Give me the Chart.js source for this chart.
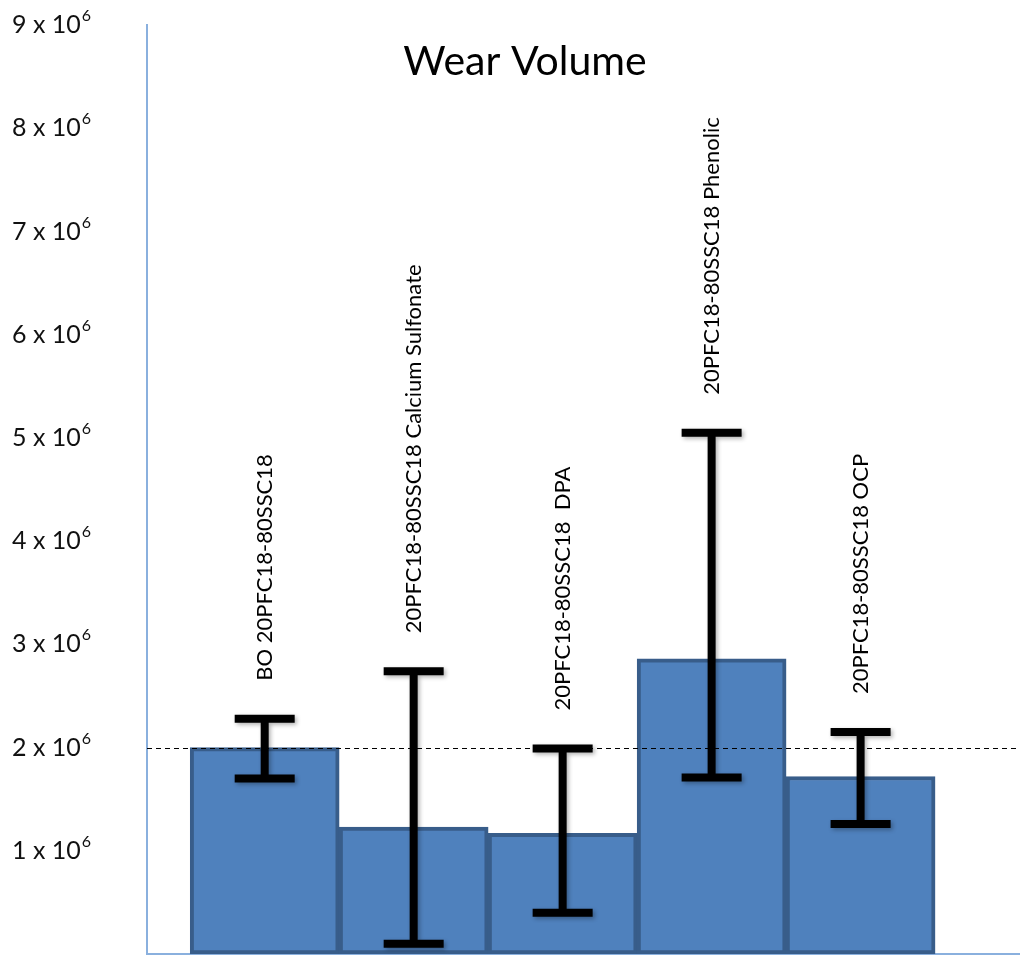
<!DOCTYPE html>
<html>
<head>
<meta charset="utf-8">
<title>Wear Volume</title>
<script src="https://cdn.jsdelivr.net/npm/chart.js@4"></script>
<style>
  html, body { margin: 0; padding: 0; background: #fff; }
  #wrap { width: 1020px; height: 958px; }
</style>
</head>
<body>
<div id="wrap"><canvas id="wear-chart" width="1020" height="958"></canvas></div>
<script>
// --- Data ---
const categories = [
    'BO 20PFC18-80SSC18',
    '20PFC18-80SSC18 Calcium Sulfonate',
    '20PFC18-80SSC18  DPA',
    '20PFC18-80SSC18 Phenolic',
    '20PFC18-80SSC18 OCP'
];
const wearVolume = [2.0e6, 1.23e6, 1.17e6, 2.86e6, 1.72e6];
const errorLow = [1.70e6, 0.10e6, 0.40e6, 1.71e6, 1.26e6];
const errorHigh = [2.28e6, 2.74e6, 1.99e6, 5.05e6, 2.15e6];
const yTickValues = [1e6, 2e6, 3e6, 4e6, 5e6, 6e6, 7e6, 8e6, 9e6];
const yTickMantissa = ['1', '2', '3', '4', '5', '6', '7', '8', '9'];
const referenceLine = 2e6;

const FONT = 'Lato, "Open Sans", sans-serif';

// --- Custom drawing: reference line, error bars, labels, ticks, title ---
const extrasPlugin = {
    id: 'extras',
    afterDatasetsDraw(chart) {
        const { ctx, chartArea, scales: { x, y } } = chart;

        // dashed line at 2 x 10^6
        const yRef = Math.round(y.getPixelForValue(referenceLine)) + 0.5;
        ctx.save();
        ctx.strokeStyle = '#000';
        ctx.lineWidth = 1;
        ctx.setLineDash([5, 4]);
        ctx.beginPath();
        ctx.moveTo(chartArea.left, yRef);
        ctx.lineTo(chartArea.right, yRef);
        ctx.stroke();
        ctx.restore();

        // error bars
        ctx.save();
        ctx.strokeStyle = '#000';
        ctx.lineWidth = 8;
        ctx.lineCap = 'butt';
        ctx.shadowColor = 'rgba(0,0,0,0.3)';
        ctx.shadowBlur = 4;
        ctx.shadowOffsetX = 2;
        ctx.shadowOffsetY = 2;
        categories.forEach((c, i) => {
            const cx = x.getPixelForValue(i);
            const yLo = y.getPixelForValue(errorLow[i]);
            const yHi = y.getPixelForValue(errorHigh[i]);
            ctx.beginPath();
            ctx.moveTo(cx, yLo);
            ctx.lineTo(cx, yHi);
            ctx.moveTo(cx - 30, yLo);
            ctx.lineTo(cx + 30, yLo);
            ctx.moveTo(cx - 30, yHi);
            ctx.lineTo(cx + 30, yHi);
            ctx.stroke();
        });
        ctx.restore();

        // rotated category labels above each error bar
        ctx.save();
        ctx.fillStyle = '#000';
        ctx.font = '22px ' + FONT;
        ctx.textAlign = 'left';
        ctx.textBaseline = 'middle';
        categories.forEach((c, i) => {
            const cx = x.getPixelForValue(i);
            const yHi = y.getPixelForValue(errorHigh[i]);
            ctx.save();
            ctx.translate(cx, yHi - 38);
            ctx.rotate(-Math.PI / 2);
            ctx.fillText(c, 0, 0);
            ctx.restore();
        });
        ctx.restore();
    },
    afterDraw(chart) {
        const { ctx, scales: { y } } = chart;

        // y tick labels "n x 10^6"
        ctx.save();
        ctx.fillStyle = '#111';
        ctx.textBaseline = 'middle';
        ctx.textAlign = 'left';
        yTickValues.forEach((v, i) => {
            const py = y.getPixelForValue(v);
            ctx.font = '25px ' + FONT;
            const base = yTickMantissa[i] + ' x 10';
            ctx.fillText(base, 12, py);
            const w = ctx.measureText(base).width;
            ctx.font = '16px ' + FONT;
            ctx.fillText('6', 12 + w + 1, py - 9);
        });
        ctx.restore();

        // title
        ctx.save();
        ctx.fillStyle = '#000';
        ctx.font = '41px ' + FONT;
        ctx.textAlign = 'center';
        ctx.textBaseline = 'middle';
        ctx.fillText('Wear Volume', 525, 62);
        ctx.restore();
    }
};

const ctx = document.getElementById('wear-chart').getContext('2d');
new Chart(ctx, {
    type: 'bar',
    data: {
        datasets: [{
            label: 'Wear Volume',
            data: wearVolume.map((v, i) => ({ x: i, y: v })),
            backgroundColor: '#4F81BD',
            borderColor: '#385D8A',
            borderWidth: 4,
            borderSkipped: false,
            barPercentage: 1,
            categoryPercentage: 1
        }]
    },
    options: {
        responsive: false,
        animation: false,
        layout: { padding: { top: 25, right: 0, left: 0, bottom: 0 } },
        plugins: {
            legend: { display: false },
            tooltip: { enabled: false },
            title: { display: false }
        },
        scales: {
            x: {
                type: 'linear',
                offset: false,
                min: -0.79,
                max: 5.07,
                grid: { display: false, offset: false },
                ticks: { display: false },
                border: { color: '#8AB0DE', width: 2 },
                // one tick per bar so bar width follows the bar spacing
                afterBuildTicks: s => { s.ticks = categories.map((c, i) => ({ value: i })); },
                afterFit: s => { s.height = 4; }
            },
            y: {
                min: 0,
                max: 9e6,
                grid: { display: false },
                ticks: { display: false, stepSize: 1e6 },
                border: { color: '#8AB0DE', width: 2 },
                afterFit: s => { s.width = 147; }
            }
        }
    },
    plugins: [extrasPlugin]
});
</script>
</body>
</html>
